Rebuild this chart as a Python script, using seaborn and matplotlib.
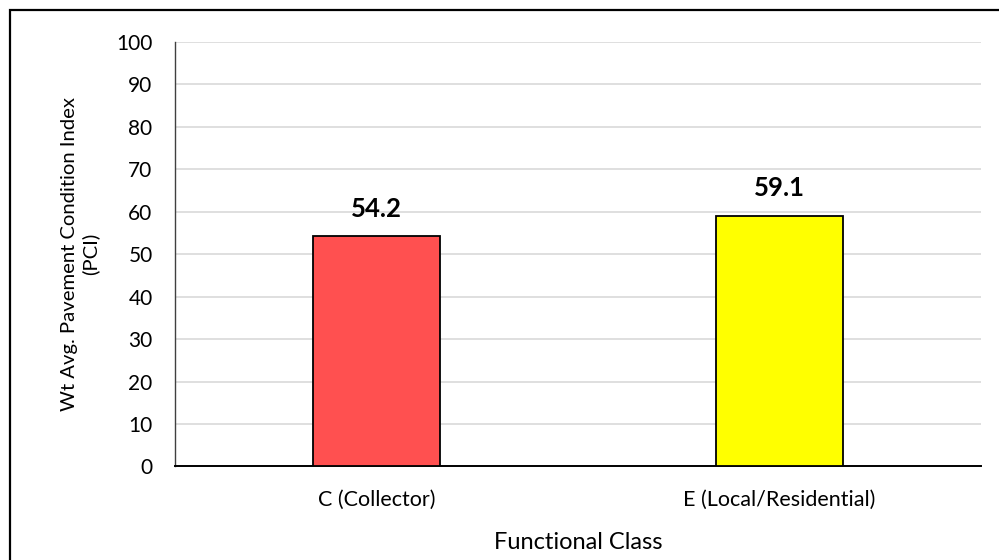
import matplotlib
matplotlib.use("Agg")
import matplotlib.pyplot as plt
from matplotlib.patches import Rectangle
import seaborn as sns
import pandas as pd

categories = ["C (Collector)", "E (Local/Residential)"]
pci_values = [54.2, 59.1]
bar_colors = ["#FF5050", "#FFFF00"]
y_ticks = [0, 10, 20, 30, 40, 50, 60, 70, 80, 90, 100]

sns.set_theme(style="white")
plt.rcParams["font.family"] = ["Lato", "DejaVu Sans"]
plt.rcParams["text.color"] = "black"
plt.rcParams["axes.labelcolor"] = "black"

df = pd.DataFrame({"Functional Class": categories, "PCI": pci_values})

fig = plt.figure(figsize=(9.99, 5.6), dpi=100)
ax = fig.add_axes([0.175, 0.167, 0.807, 0.758])

sns.barplot(data=df, x="Functional Class", y="PCI", hue="Functional Class",
            palette=bar_colors, saturation=1, width=0.315, edgecolor="black",
            linewidth=1.3, legend=False, ax=ax, zorder=3)

ax.set_ylim(0, 100)
ax.set_xlim(-0.5, 1.5)
ax.set_yticks(y_ticks)
ax.grid(axis="y", color="#d9d9d9", linewidth=1.2, zorder=0)
ax.set_axisbelow(True)

for spine in ["top", "right"]:
    ax.spines[spine].set_visible(False)
ax.spines["bottom"].set_color("black")
ax.spines["bottom"].set_linewidth(1.4)
ax.spines["left"].set_color("#404040")
ax.spines["left"].set_linewidth(1.0)

ax.tick_params(axis="both", length=0, colors="black", labelcolor="black")
ax.tick_params(axis="y", pad=16, labelsize=15)
ax.tick_params(axis="x", pad=17, labelsize=15.5)

ax.set_xlabel("Functional Class", fontsize=17, labelpad=16, color="black")
ax.set_ylabel("Wt Avg. Pavement Condition Index\n(PCI)", fontsize=14.6,
              labelpad=12, linespacing=1.25, color="black")

for i, v in enumerate(pci_values):
    ax.annotate(f"{v:.1f}", xy=(i, v), xytext=(0, 14), textcoords="offset points",
                ha="center", va="baseline", fontsize=18.5, fontweight="bold",
                color="black")

# outer chart frame
fig.patches.append(Rectangle((10 / 999, -0.2), 1.2, 1.2 - 9.5 / 560,
                             transform=fig.transFigure, fill=False,
                             edgecolor="black", linewidth=1.6, zorder=10))

fig.savefig("out.png", dpi=100)
